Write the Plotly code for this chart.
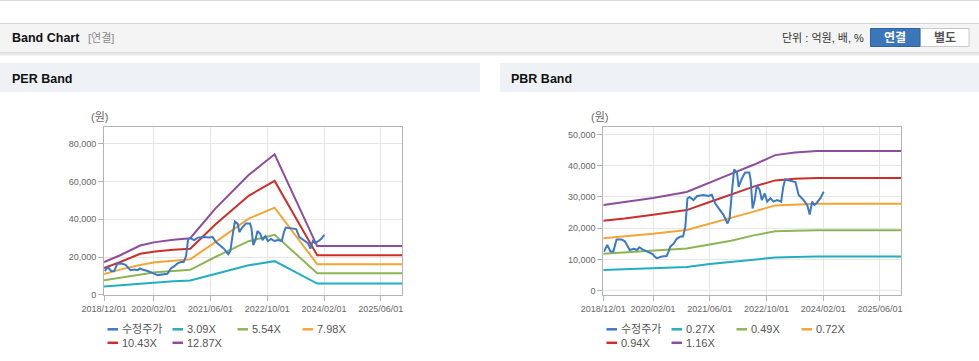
import plotly.graph_objects as go

W, H = 979, 361

# ---------------- data ----------------
price_name = "수정주가"
price_dates = [
    "2018-12-07", "2019-01-04", "2019-01-31", "2019-02-25", "2019-03-25", "2019-05-07",
    "2019-06-04", "2019-07-16", "2019-08-20", "2019-09-15", "2019-10-07", "2019-11-01",
    "2019-12-10", "2020-01-10", "2020-01-28", "2020-02-15", "2020-03-04", "2020-04-16",
    "2020-05-28", "2020-06-13", "2020-06-28", "2020-07-25", "2020-08-22", "2020-09-22",
    "2020-10-15", "2020-11-04", "2020-11-22", "2020-12-10", "2021-01-13", "2021-02-13",
    "2021-04-07", "2021-05-22", "2021-06-19", "2021-07-19", "2021-09-01", "2021-09-28",
    "2021-11-01", "2021-11-19", "2021-12-10", "2021-12-28", "2022-01-22", "2022-02-04",
    "2022-03-04", "2022-04-01", "2022-05-07", "2022-05-19", "2022-06-04", "2022-06-22",
    "2022-07-10", "2022-08-04", "2022-08-22", "2022-09-16", "2022-10-07", "2022-11-04",
    "2022-12-01", "2023-01-01", "2023-02-04", "2023-02-22", "2023-03-10", "2023-04-22",
    "2023-06-07", "2023-07-04", "2023-08-16", "2023-09-16", "2023-10-07", "2023-10-28",
    "2023-11-16", "2023-12-04", "2024-01-07", "2024-02-04",
]
price_values = [
    12500, 14600, 12600, 12500, 16400, 16400,
    15800, 13000, 13400, 13000, 13900, 13200,
    12600, 11900, 11700, 10900, 10400, 10900,
    11100, 12500, 14100, 15000, 16600, 17300,
    17300, 20500, 29500, 30000, 29000, 30300,
    30600, 30300, 30700, 27900, 25800, 24200,
    21500, 23200, 32200, 38800, 37600, 33200,
    35900, 37800, 37800, 35300, 26300, 29000,
    33800, 32200, 29000, 31100, 28500, 29600,
    28500, 29000, 28500, 33200, 35600, 35300,
    34800, 30600, 29000, 27400, 24400, 28500,
    27400, 28000, 29600, 31700,
]

per_names = ["3.09X", "5.54X", "7.98X", "10.43X", "12.87X"]
per_dates = ["2018-12-01", "2019-04-15", "2019-10-07", "2020-02-13", "2020-07-19", "2020-12-10",
             "2021-07-13", "2022-04-25", "2022-12-04", "2023-12-04", "2025-12-01"]
per_3_09 = [4400, 5100, 5900, 6600, 7100, 7500, 10900, 15600, 17800, 5900, 5900]
per_5_54 = [7600, 8900, 10500, 11900, 12600, 13200, 20000, 28400, 31800, 11400, 11400]
per_7_98 = [10900, 13300, 15800, 17200, 18000, 18800, 27900, 40400, 46200, 16200, 16200]
per_10_43 = [14100, 17200, 21700, 22900, 23800, 24400, 37200, 52500, 60400, 21000, 21000]
per_12_87 = [17300, 20800, 26100, 27900, 29200, 30000, 45700, 63500, 74500, 25800, 25800]

pbr_names = ["0.27X", "0.49X", "0.72X", "0.94X", "1.16X"]
pbr_dates = ["2018-12-01", "2019-06-01", "2020-02-01", "2020-11-15", "2021-06-01", "2021-12-01",
             "2022-06-13", "2022-12-15", "2023-06-01", "2023-12-10", "2025-12-01"]
pbr_0_27 = [6600, 6800, 7100, 7600, 8500, 9200, 9900, 10600, 10800, 10900, 10900]
pbr_0_49 = [11800, 12200, 12700, 13500, 14800, 16000, 17700, 19000, 19200, 19300, 19300]
pbr_0_72 = [16800, 17400, 18200, 19400, 21400, 23200, 25300, 27300, 27600, 27800, 27800]
pbr_0_94 = [22400, 23100, 24300, 25800, 28400, 30800, 33300, 35300, 35800, 36100, 36100]
pbr_1_16 = [27400, 28300, 29700, 31600, 34500, 37400, 40300, 43400, 44200, 44700, 44700]

x_tickvals = ["2018-12-01", "2020-02-01", "2021-06-01", "2022-10-01", "2024-02-01", "2025-06-01"]
x_ticktext = ["2018/12/01", "2020/02/01", "2021/06/01", "2022/10/01", "2024/02/01", "2025/06/01"]
x_range = ["2018-12-01", "2025-12-01"]

# ---------------- style ----------------
price_color = "#3B78C8"
band_colors = ["#22AEC0", "#8DB653", "#F5A535", "#CC2E2A", "#8E4C9E"]
FONT = "Liberation Sans, Noto Sans CJK KR, sans-serif"


def px(x):
    return x / W


def py(y):
    return 1 - y / H


fig = go.Figure()

per_series = [per_3_09, per_5_54, per_7_98, per_10_43, per_12_87]
pbr_series = [pbr_0_27, pbr_0_49, pbr_0_72, pbr_0_94, pbr_1_16]

for name, vals, col in zip(per_names, per_series, band_colors):
    fig.add_trace(go.Scatter(x=per_dates, y=vals, name=name, mode="lines",
                             line=dict(color=col, width=2), xaxis="x", yaxis="y",
                             showlegend=False))
fig.add_trace(go.Scatter(x=price_dates, y=price_values, name=price_name, mode="lines",
                         line=dict(color=price_color, width=2), xaxis="x", yaxis="y",
                         showlegend=False))

for name, vals, col in zip(pbr_names, pbr_series, band_colors):
    fig.add_trace(go.Scatter(x=pbr_dates, y=vals, name=name, mode="lines",
                             line=dict(color=col, width=2), xaxis="x2", yaxis="y2",
                             showlegend=False))
fig.add_trace(go.Scatter(x=price_dates, y=price_values, name=price_name, mode="lines",
                         line=dict(color=price_color, width=2), xaxis="x2", yaxis="y2",
                         showlegend=False))

ydom = [py(294.7), py(127)]
axis_common = dict(
    showgrid=True, gridcolor="#E6E6E6", gridwidth=1,
    showline=True, linecolor="#B4B4B4", linewidth=1, mirror=True,
    ticks="outside", ticklen=5, tickcolor="#B4B4B4",
    tickfont=dict(family=FONT, size=9, color="#666666"),
    zeroline=False, fixedrange=True, automargin=False,
)
xaxis_common = dict(axis_common, type="date", range=x_range, tickmode="array",
                    tickvals=x_tickvals, ticktext=x_ticktext)

fig.update_layout(
    width=W, height=H, autosize=False,
    margin=dict(l=0, r=0, t=0, b=0, pad=0, autoexpand=False),
    paper_bgcolor="white", plot_bgcolor="white",
    font=dict(family=FONT),
    showlegend=False,
    xaxis=dict(xaxis_common, domain=[px(104), px(402)], anchor="y"),
    yaxis=dict(axis_common, domain=ydom, range=[0, 89000], tick0=0, dtick=20000,
               tickformat=",", anchor="x"),
    xaxis2=dict(xaxis_common, domain=[px(603.3), px(901.3)], anchor="y2"),
    yaxis2=dict(axis_common, domain=ydom, range=[-1300, 52400], tick0=0, dtick=10000,
                tickformat=",", anchor="x2"),
)

shapes = []
annotations = []


def rect(x0, y0, x1, y1, fill, line=None, lw=0, layer="below"):
    shapes.append(dict(type="rect", xref="paper", yref="paper",
                       x0=px(x0), x1=px(x1), y0=py(y1), y1=py(y0),
                       fillcolor=fill, line=dict(color=line or fill, width=lw), layer=layer))


def hline(x0, x1, y, color, width=1, layer="below"):
    shapes.append(dict(type="line", xref="paper", yref="paper",
                       x0=px(x0), x1=px(x1), y0=py(y), y1=py(y),
                       line=dict(color=color, width=width), layer=layer))


def text(x, y, s, size=11, color="#333", bold=False, xanchor="left"):
    annotations.append(dict(xref="paper", yref="paper", x=px(x), y=py(y), text=(f"<b>{s}</b>" if bold else s),
                            showarrow=False, xanchor=xanchor, yanchor="middle",
                            font=dict(family=FONT, size=size, color=color), borderpad=0))


# top thin line
hline(0, W, 0.5, "#DADADA", 1)
# header bar
rect(0, 23, W, 53, "#F4F4F4")
hline(0, W, 23.5, "#D6D6D6", 1)
hline(0, W, 53, "#C8C8C8", 1)
hline(0, W, 54.2, "#E4E4E4", 1.2)
hline(0, W, 55.5, "#F2F2F2", 1.2)
text(11, 38, "Band Chart", size=12.5, color="#111", bold=True)
text(87, 38.5, "[연결]", size=11, color="#8A8A8A")
text(865, 38, "단위 : 억원, 배, %", size=11, color="#333", xanchor="right")
# buttons
rect(920, 28.5, 969, 46.5, "#FFFFFF", line="#C9C9C9", lw=1)
rect(870.5, 28.5, 920, 46.5, "#3A76B8", line="#2F64A0", lw=1)
text(895.3, 37.8, "연결", size=12, color="#FFFFFF", bold=True, xanchor="center")
text(944.5, 37.8, "별도", size=12, color="#555555", bold=True, xanchor="center")

# section headers
rect(0, 63, 480, 92, "#EEF2F7")
rect(500, 63, W, 92, "#EEF2F7")
text(11, 79, "PER Band", size=12.5, color="#111", bold=True)
text(510, 79, "PBR Band", size=12.5, color="#111", bold=True)

# unit labels
text(99, 117, "(원)", size=11, color="#666", xanchor="center")
text(599, 117, "(원)", size=11, color="#666", xanchor="center")

# legends (manual, compact glyphs)
def legend_item(tx, ty, label, color):
    hline(tx - 13.5, tx - 3, ty, color, 2.5, layer="above")
    text(tx - 0.5, ty, label, size=11, color="#555")


per_legend = [(price_name, price_color)] + list(zip(per_names, band_colors))
pbr_legend = [(price_name, price_color)] + list(zip(pbr_names, band_colors))
for base_x, items in ((121, per_legend), (620, pbr_legend)):
    for i, (lab, col) in enumerate(items):
        row, colidx = divmod(i, 4)
        legend_item(base_x + 65 * colidx, 329.3 + 13.5 * row, lab, col)

fig.update_layout(shapes=shapes, annotations=annotations)

fig.write_html(
    "out.html",
    config={"responsive": False, "displayModeBar": False},
    post_script="document.body.style.margin='0';document.body.style.overflow='hidden';",
)
